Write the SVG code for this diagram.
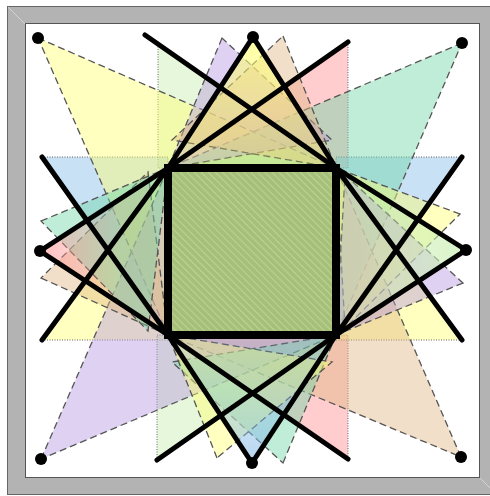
<svg xmlns="http://www.w3.org/2000/svg" width="490" height="496" viewBox="0 0 490 496">
<defs>
<style>
.dash{stroke:#555;stroke-width:1.3;stroke-dasharray:7 4;fill-opacity:0.45}
.dot{stroke:#666;stroke-width:1;stroke-dasharray:1 1.5;fill-opacity:0.45}
.thick{stroke:#000;stroke-width:5;stroke-linecap:round;fill:none}
.y{fill:#ffff70}.m{fill:#70d8a8}.t{fill:#e0b888}.p{fill:#b898e0}
.k{fill:#ff9090}.b{fill:#88bce8}.g{fill:#c8eeb0}
</style>
<pattern id="hatch" width="5" height="5" patternUnits="userSpaceOnUse" patternTransform="rotate(-45)">
<rect width="5" height="5" fill="#a6c07a"/>
<line x1="0" y1="0" x2="0" y2="5" stroke="#c4d89e" stroke-width="1.6"/>
</pattern>
<linearGradient id="gTop" x1="0" y1="37" x2="0" y2="168" gradientUnits="userSpaceOnUse">
<stop offset="0" stop-color="#ffff70" stop-opacity="0.65"/><stop offset="1" stop-color="#ffff70" stop-opacity="0.2"/>
</linearGradient>
<linearGradient id="gRight" x1="466" y1="0" x2="336" y2="0" gradientUnits="userSpaceOnUse">
<stop offset="0" stop-color="#c8eeb0" stop-opacity="0.7"/><stop offset="1" stop-color="#c8eeb0" stop-opacity="0.2"/>
</linearGradient>
<linearGradient id="gBottom" x1="0" y1="463" x2="0" y2="335" gradientUnits="userSpaceOnUse">
<stop offset="0" stop-color="#88bce8" stop-opacity="0.6"/><stop offset="1" stop-color="#88bce8" stop-opacity="0.15"/>
</linearGradient>
<linearGradient id="gLeft" x1="40" y1="0" x2="168" y2="0" gradientUnits="userSpaceOnUse">
<stop offset="0" stop-color="#ff9090" stop-opacity="0.6"/><stop offset="0.6" stop-color="#ff9090" stop-opacity="0.1"/><stop offset="1" stop-color="#ff9090" stop-opacity="0"/>
</linearGradient>
</defs>
<g id="frame">
<rect x="7.5" y="6.5" width="490" height="488" fill="#b3b3b3" stroke="#666"/>
<line x1="8" y1="7" x2="25" y2="24" stroke="#d4d4d4"/>
<line x1="480" y1="478" x2="497" y2="495" stroke="#d4d4d4"/>
<rect x="25.5" y="23.5" width="454" height="454" fill="#fff" stroke="#555"/>
</g>
<g id="right-triangles">
<polygon id="rt-top-r" class="dot k" points="348,42 348,168 168,168"/>
<polygon id="rt-top-l" class="dot g" points="158,44 158,168 336,168"/>
<polygon id="rt-left-u" class="dot b" points="42,157 168,157 168,335"/>
<polygon id="rt-left-l" class="dot y" points="42,340 168,340 168,168"/>
<polygon id="rt-bot-l" class="dot g" points="157,460 157,335 336,335"/>
<polygon id="rt-bot-r" class="dot k" points="348,459 348,335 168,335"/>
<polygon id="rt-right-u" class="dot b" points="462,157 336,157 336,335"/>
<polygon id="rt-right-l" class="dot y" points="462,340 336,340 336,168"/>
</g>
<g id="corner-triangles">
<polygon id="tri-tl" class="dash y" points="38,38 336,168 168,335"/>
<polygon id="tri-tr" class="dash m" points="462,43 168,168 336,335"/>
<polygon id="tri-br" class="dash t" points="461,457 336,168 168,335"/>
<polygon id="tri-bl" class="dash p" points="41,459 168,168 336,335"/>
</g>
<g id="side-triangles">
<polygon id="tri-top-a" class="dash p" points="222,38 168,168 332,140"/>
<polygon id="tri-top-b" class="dash t" points="283,36 336,168 172,140"/>
<polygon id="tri-right-a" class="dash y" points="460,214 336,168 345,328"/>
<polygon id="tri-right-b" class="dash p" points="463,283 336,335 345,175"/>
<polygon id="tri-bottom-a" class="dash m" points="283,463 336,335 172,362"/>
<polygon id="tri-bottom-b" class="dash y" points="217,458 168,335 332,362"/>
<polygon id="tri-left-a" class="dash t" points="41,278 168,335 148,172"/>
<polygon id="tri-left-b" class="dash m" points="41,221 168,168 148,331"/>
</g>
<g id="apex-triangles">
<polygon id="apex-top" fill="url(#gTop)" points="253,37 168,168 336,168"/>
<polygon id="apex-right" fill="url(#gRight)" points="466,250 336,168 336,335"/>
<polygon id="apex-bottom" fill="url(#gBottom)" points="252,463 168,335 336,335"/>
<polygon id="apex-left" fill="url(#gLeft)" points="40,251 168,168 168,335"/>
</g>
<g id="square">
<rect x="168" y="168" width="168" height="167" fill="url(#hatch)" stroke="#000" stroke-width="8"/>
</g>
<g id="connectors">
<polyline class="thick" points="145,35 336,168"/>
<polyline class="thick" points="348,42 168,168"/>
<polyline class="thick" points="168,168 253,37 336,168"/>
<polyline class="thick" points="42,157 168,335"/>
<polyline class="thick" points="42,340 168,168"/>
<polyline class="thick" points="168,168 40,251 168,335"/>
<polyline class="thick" points="157,460 336,335"/>
<polyline class="thick" points="348,459 168,335"/>
<polyline class="thick" points="168,335 252,463 336,335"/>
<polyline class="thick" points="462,157 336,335"/>
<polyline class="thick" points="462,340 336,168"/>
<polyline class="thick" points="336,168 466,250 336,335"/>
</g>
<g id="dots" fill="#000">
<circle id="dot-tl" cx="38" cy="38" r="6"/>
<circle id="dot-t" cx="253" cy="37" r="6"/>
<circle id="dot-tr" cx="462" cy="43" r="6"/>
<circle id="dot-l" cx="40" cy="251" r="6"/>
<circle id="dot-r" cx="466" cy="250" r="6"/>
<circle id="dot-bl" cx="41" cy="459" r="6"/>
<circle id="dot-b" cx="252" cy="463" r="6"/>
<circle id="dot-br" cx="461" cy="457" r="6"/>
</g>
</svg>
